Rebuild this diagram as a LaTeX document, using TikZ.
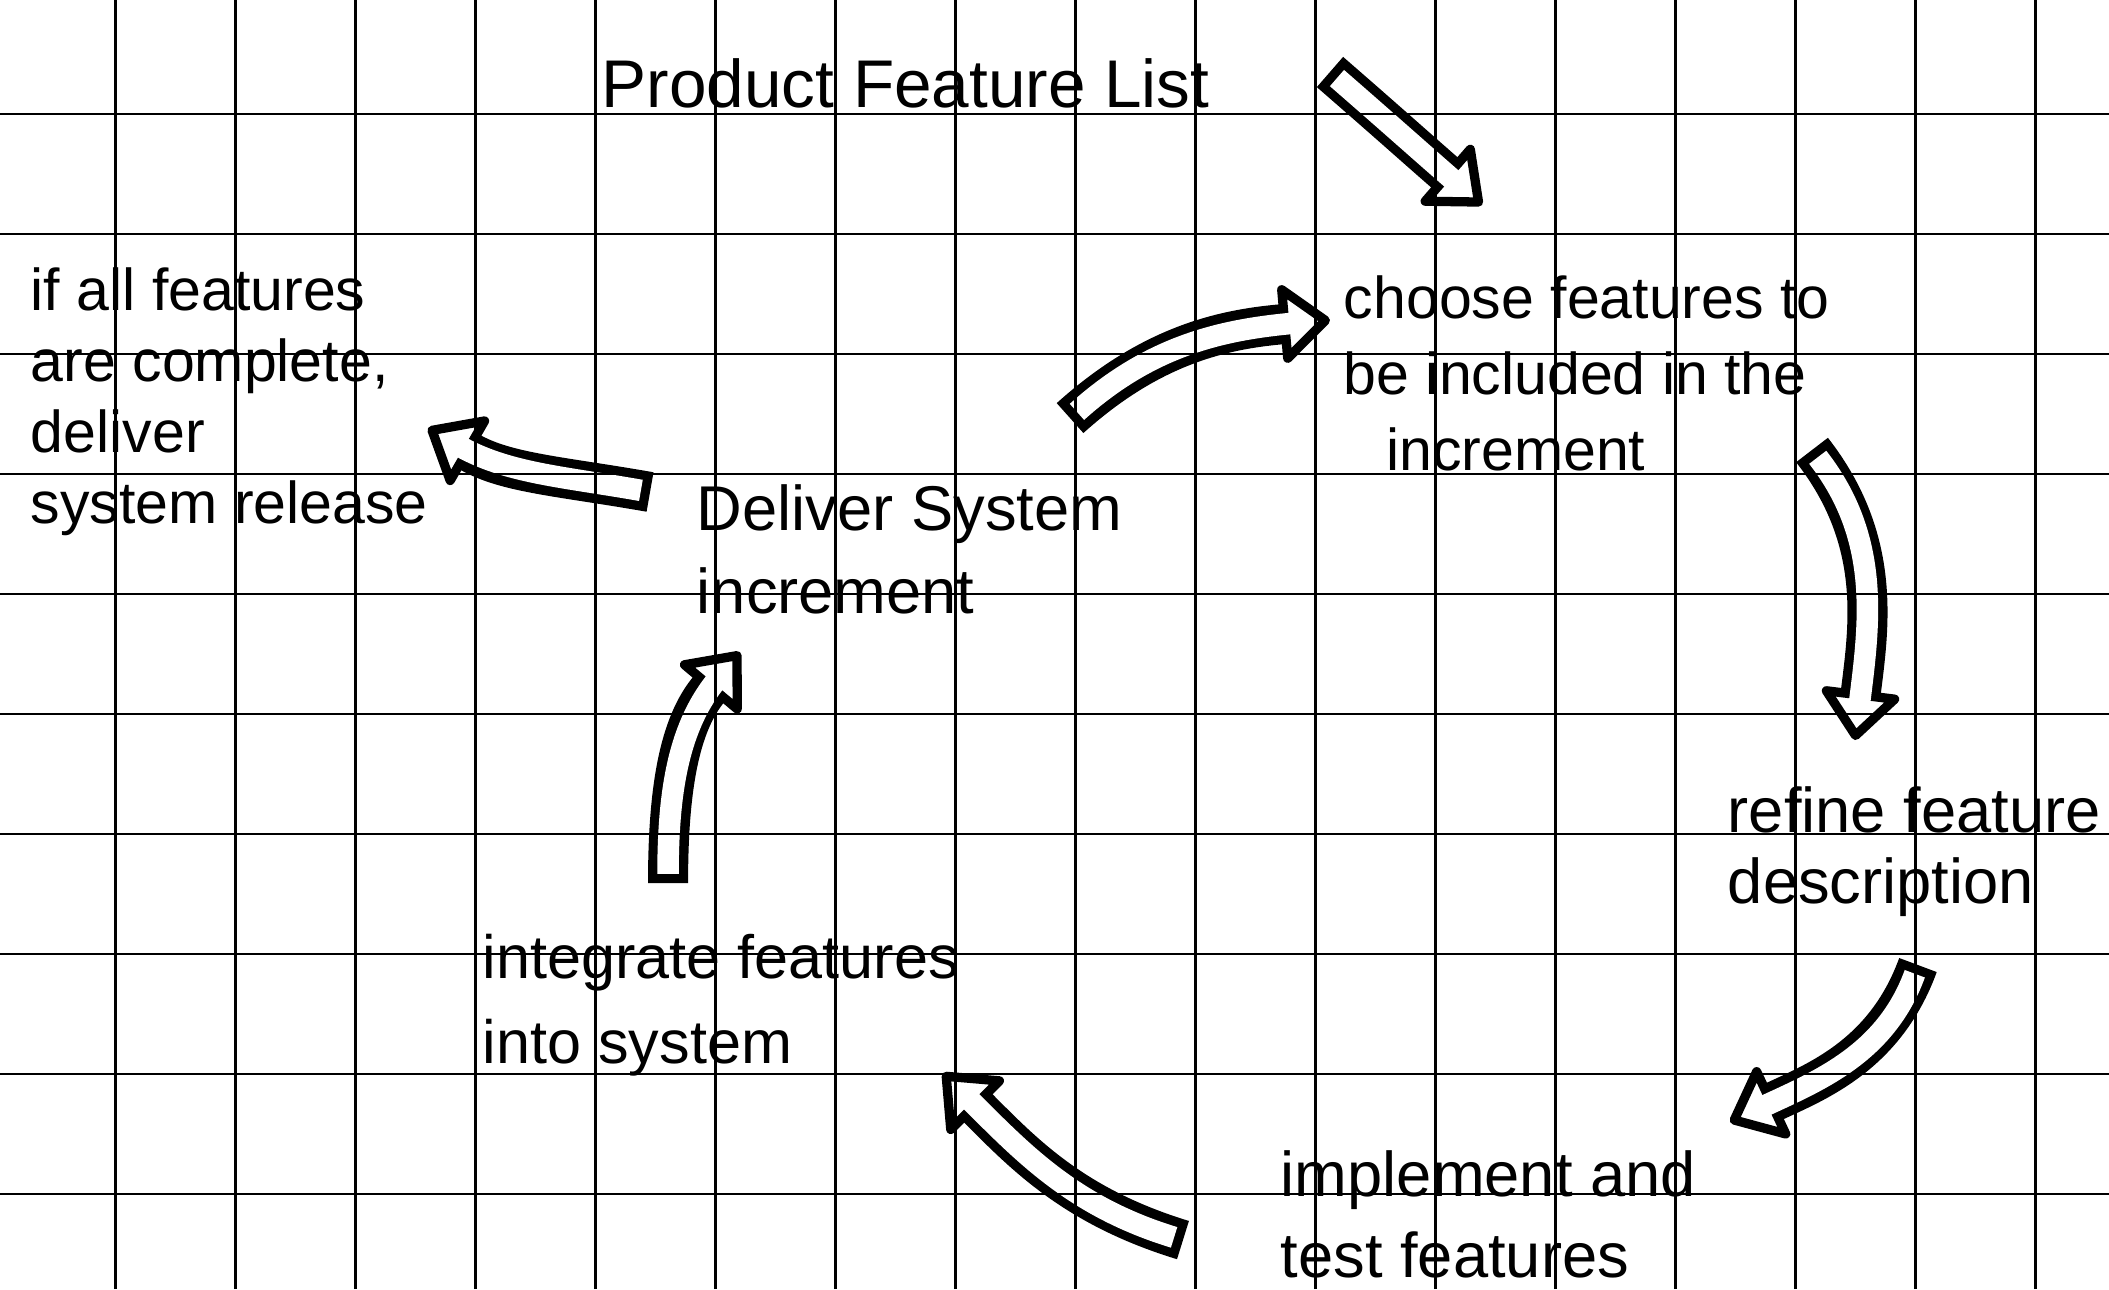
\documentclass[tikz,border=0pt]{standalone}
\usepackage{fontspec}
\setmainfont{Liberation Sans}
\usetikzlibrary{arrows.meta}

\begin{document}
\begin{tikzpicture}[
  hand/.style={                             % handwritten label, placed at its last baseline
    anchor=base west, align=left, inner sep=0pt, text=black
  },
  gridline/.style={draw=black, line width=0.6pt},
  shaft/.style={                            % hollow arrow: black band + open head
    draw=black, line width=9.5pt, line cap=butt,
    -{Triangle[length=12.5pt, width=20.5pt, line width=2.2pt, fill=white, round]}
  },
  hollow/.style={                           % white inside of the band
    draw=white, line width=5.1pt, line cap=butt,
    shorten <=2.2pt, shorten >=8pt
  },
]
\useasboundingbox (0,0) rectangle (17.575,10.742);
\fill[white] (0,0) rectangle (17.575,10.742);

% ---- Labels ----
\node (list)    at (5.008, 9.850) [hand, font=\fontsize{16}{19}\selectfont]
  {Product Feature List};
\node (release) at (0.250, 6.383) [hand, font=\fontsize{14}{16.8}\selectfont]
  {if all features\\are complete,\\deliver\\system release};
\node (deliver) at (5.800, 5.633) [hand, font=\fontsize{15}{19.6}\selectfont]
  {Deliver System\\increment};
\node (choose)  at (11.192, 6.817) [hand, font=\fontsize{14}{18.1}\selectfont]
  {choose features to\\be included in the\\\hspace*{10pt}increment};
\node (refine)  at (14.392, 3.217) [hand, font=\fontsize{15}{16.6}\selectfont]
  {refine feature\\description};
\node (implem)  at (10.667, 0.100) [hand, font=\fontsize{15}{19}\selectfont]
  {implement and\\test features};
\node (integ)   at (4.017, 1.883) [hand, font=\fontsize{14.5}{20}\selectfont]
  {integrate features\\into system};

% ---- Arrow ends ----
\coordinate (s1) at (11.083,10.142); \coordinate (t1) at (12.350, 9.033);
\coordinate (s2) at ( 8.917, 7.258); \coordinate (t2) at (11.083, 8.075);
\coordinate (s3) at (15.100, 6.992); \coordinate (t3) at (15.458, 4.575);
\coordinate (s4) at (15.983, 2.700); \coordinate (t4) at (14.417, 1.392);
\coordinate (s5) at ( 9.858, 0.408); \coordinate (t5) at ( 7.858, 1.800);
\coordinate (s6) at ( 5.567, 3.383); \coordinate (t6) at ( 6.167, 5.308);
\coordinate (s7) at ( 5.417, 6.642); \coordinate (t7) at ( 3.567, 7.175);

% ---- Arrows ----
\foreach \s/\t/\o/\i in {s1/t1/-41/139, s2/t2/42/185,
                         s3/t3/-52/83,  s4/t4/250/25,
                         s5/t5/163/-45, s6/t6/90/230,
                         s7/t7/170/-30}
{
  \draw[shaft]  (\s) to[out=\o, in=\i] (\t);
  \draw[hollow] (\s) to[out=\o, in=\i] (\t);
}

% ---- Squared paper (on top, so it shows through the arrows) ----
\draw[gridline, shift={(0.9625,0.792)}] (-0.9625,-0.792) grid (16.6125,9.95);

\end{tikzpicture}
\end{document}
